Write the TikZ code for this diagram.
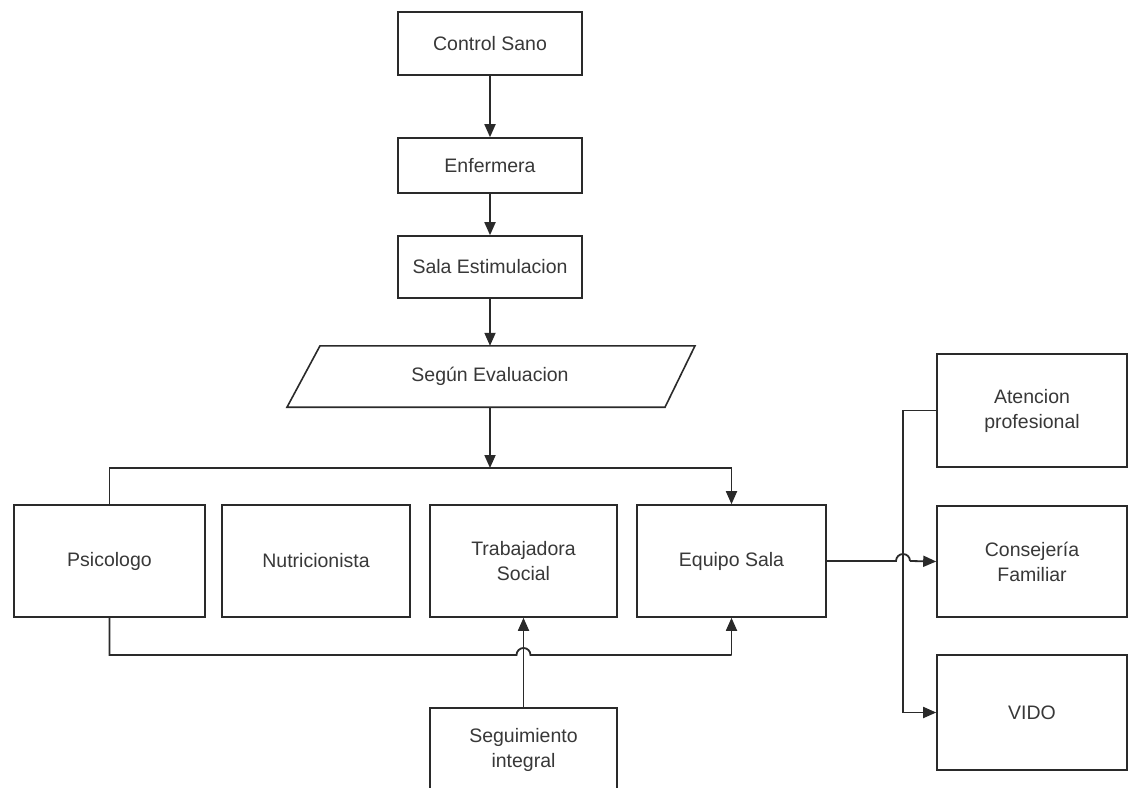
\documentclass[tikz,border=0pt]{standalone}
\usepackage{fontspec}
\setmainfont{Liberation Sans}
\usetikzlibrary{arrows.meta,calc}
\definecolor{ln}{HTML}{2A2A2A}
\definecolor{tx}{HTML}{383838}
\tikzset{
  box/.style={draw=ln, line width=1.6pt, minimum width=#1, inner sep=0pt, align=center,
    text=tx, font=\fontsize{19.5}{25}\selectfont},
  box/.default=187pt,
  con/.style={draw=ln, line width=1.8pt},
  arr/.style={con, -{Triangle[length=13pt,width=11pt]}},
}
\begin{document}
\begin{tikzpicture}[x=1pt,y=-1pt]
\clip (0,0) rectangle (1129,787);
\fill[white] (0,0) rectangle (1129,787);
% top column
\node[box=184pt, minimum height=63pt] (cs) at (490,43.5) {Control Sano};
\node[box=184pt, minimum height=55pt] (enf) at (490,165.5) {Enfermera};
\node[box=184pt, minimum height=62pt] (sala) at (490,267) {Sala Estimulacion};
\node[minimum width=300pt, minimum height=61pt, inner sep=0pt, text=tx,
  font=\fontsize{19.5}{25}\selectfont] (seg) at (490,376.5) {Según Evaluacion};
\draw[ln, line width=1.6pt] ($(seg.north)+(-170,0)$) -- ($(seg.north)+(205,0)$)
  -- ($(seg.south)+(175,0)$) -- ($(seg.south)+(-203,0)$) -- cycle;
% row
\node[box=191pt, minimum height=112pt] (psi) at (109.5,561) {Psicologo};
\node[box=188pt, minimum height=112pt] (nut) at (316,561) {Nutricionista};
\node[box=187pt, minimum height=112pt] (tra) at (523.5,561) {Trabajadora\\Social};
\node[box=189pt, minimum height=112pt] (eq) at (731.5,561) {Equipo Sala};
\node[box=187pt, minimum height=84pt] (si) at (523.5,750) {Seguimiento\\integral};
% right
\node[box=190pt, minimum height=113pt] (at) at (1032,410.5) {Atencion\\profesional};
\node[box=190pt, minimum height=111pt] (cf) at (1032,561.5) {Consejería\\Familiar};
\node[box=190pt, minimum height=115pt] (vido) at (1032,712.5) {VIDO};
% coordinates
\coordinate (tl) at (psi.north |- 0,468);
\coordinate (tm) at (seg.south |- 0,468);
\coordinate (tr) at (eq.north |- 0,468);
\coordinate (bl) at (psi.south |- 0,655);
\coordinate (bh) at (si.north |- 0,655);
\coordinate (vx) at (903,0);
\coordinate (rh) at (vx |- eq.east);
\coordinate (rt) at (vx |- at.west);
\coordinate (rb) at (vx |- vido.west);
% connectors
\draw[arr] (cs) -- (enf);
\draw[arr] (enf) -- (sala);
\draw[arr] (sala) -- (seg.north);
\draw[arr] (seg.south) -- (tm);
\draw[con] (psi.north) -- (tl) -- (tm);
\draw[arr] (tm) -- (tr) -- (eq.north);
\draw[con] (psi.south) -- (bl) -- ($(bh)+(-7,0)$) arc[start angle=180,end angle=0,radius=7pt]
  -- (bh -| eq.south);
\draw[arr] (bh -| eq.south) -- (eq.south);
\draw[arr] (si.north) -- (tra.south);
\draw[con] (eq.east) -- ($(rh)+(-7,0)$) arc[start angle=180,end angle=0,radius=7pt];
\draw[arr] ($(rh)+(7,0)$) -- (cf.west);
\draw[con] (at.west) -- (rt) -- (rb);
\draw[arr] (rb) -- (vido.west);
\end{tikzpicture}
\end{document}
